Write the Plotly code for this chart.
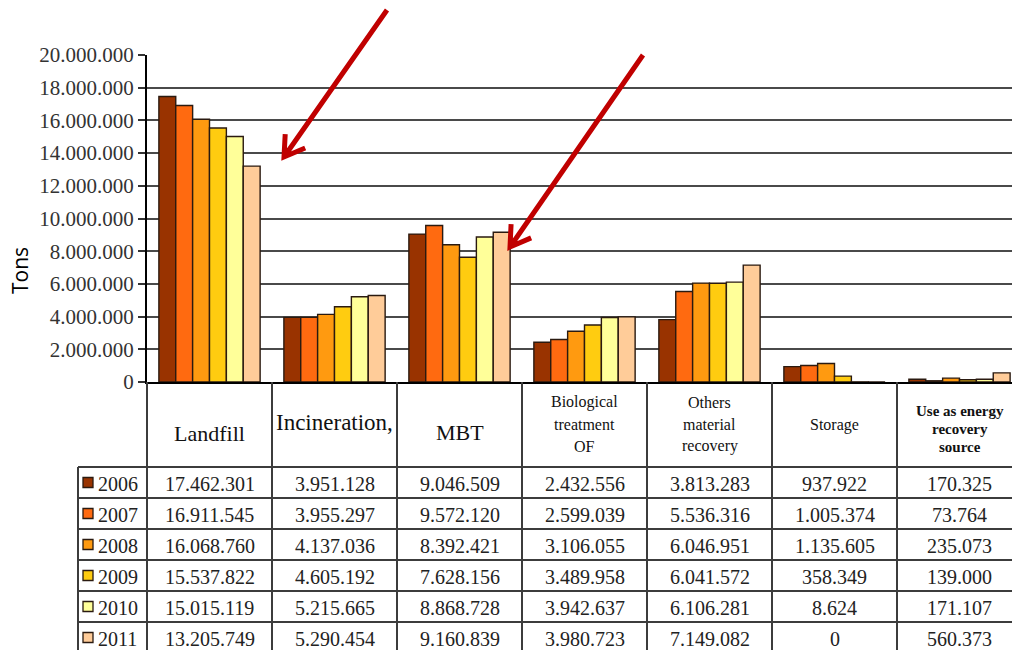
import math
import plotly.graph_objects as go

# ---------------- data ----------------
categories = ["Landfill", "Incineration,", "MBT", "Biological treatment OF",
              "Others material recovery", "Storage", "Use as energy recovery source"]
header_lines = [["Landfill"], ["Incineration,"], ["MBT"],
                ["Biological", "treatment", "OF"],
                ["Others", "material", "recovery"],
                ["Storage"],
                ["Use as energy", "recovery", "source"]]
years = ["2006", "2007", "2008", "2009", "2010", "2011"]
v2006 = [17462301, 3951128, 9046509, 2432556, 3813283, 937922, 170325]
v2007 = [16911545, 3955297, 9572120, 2599039, 5536316, 1005374, 73764]
v2008 = [16068760, 4137036, 8392421, 3106055, 6046951, 1135605, 235073]
v2009 = [15537822, 4605192, 7628156, 3489958, 6041572, 358349, 139000]
v2010 = [15015119, 5215665, 8868728, 3942637, 6106281, 8624, 171107]
v2011 = [13205749, 5290454, 9160839, 3980723, 7149082, 0, 560373]
series = [v2006, v2007, v2008, v2009, v2010, v2011]
ytick_vals = [0, 2000000, 4000000, 6000000, 8000000, 10000000, 12000000,
              14000000, 16000000, 18000000, 20000000]
ytick_text = ["0", "2.000.000", "4.000.000", "6.000.000", "8.000.000", "10.000.000",
              "12.000.000", "14.000.000", "16.000.000", "18.000.000", "20.000.000"]
y_title = "Tons"

# ---------------- style ----------------
colors = ["#993300", "#FF6A10", "#FF9A10", "#FFCC10", "#FFFF99", "#FFCC99"]
SERIF = "Liberation Serif"
W, H = 1012, 650
L, T, B = 147, 55, 382          # plot-area pixel edges
PW, PH = W - L, B - T
COL_W = 125                      # table column width (px)


def px(xp):
    return (xp - L) / PW


def py(yp):
    return (B - yp) / PH


def fmt(v):
    return f"{v:,}".replace(",", ".")


fig = go.Figure()
for yr, vals, c in zip(years, series, colors):
    fig.add_trace(go.Bar(
        name=yr, x=list(range(len(categories))), y=vals,
        marker=dict(color=c, line=dict(color="#2a1a10", width=1.4)),
        hoverinfo="skip"))

shapes = []
annotations = []

# table horizontal lines
row_edges = [467, 498, 529, 560, 591, 622, 653]
for ye in row_edges:
    shapes.append(dict(type="line", xref="paper", yref="paper",
                       x0=px(78), x1=1.0, y0=py(ye), y1=py(ye),
                       line=dict(color="#3c3c3c", width=2)))
# table vertical lines
for k in range(len(categories)):
    xe = L + COL_W * k
    shapes.append(dict(type="line", xref="paper", yref="paper",
                       x0=px(xe), x1=px(xe), y0=py(B), y1=py(H + 5),
                       line=dict(color="#3c3c3c", width=2)))
shapes.append(dict(type="line", xref="paper", yref="paper",
                   x0=px(78), x1=px(78), y0=py(467), y1=py(H + 5),
                   line=dict(color="#3c3c3c", width=2)))

# headers (one annotation per line)
hdr_sizes = [22, 23, 22, 16, 16, 16, 15]
hdr_bold = [False, False, False, False, False, False, True]
hdr_y0 = [433, 422, 432, 402, 402, 425, 411]
hdr_step = [0, 0, 0, 22, 22, 0, 18]
for i, lines in enumerate(header_lines):
    for j, lab in enumerate(lines):
        txt = f"<b>{lab}</b>" if hdr_bold[i] else lab
        annotations.append(dict(xref="x", yref="paper", x=i,
                                y=py(hdr_y0[i] + j * hdr_step[i]),
                                text=txt, showarrow=False, xanchor="center",
                                yanchor="middle",
                                font=dict(family=SERIF, size=hdr_sizes[i], color="#111")))

# rows
for r, (yr, vals, c) in enumerate(zip(years, series, colors)):
    yc = (row_edges[r] + row_edges[r + 1]) / 2
    shapes.append(dict(type="rect", xref="paper", yref="paper",
                       x0=px(83), x1=px(93), y0=py(yc - 5), y1=py(yc + 5),
                       fillcolor=c, line=dict(color="#2a1a10", width=1.3)))
    annotations.append(dict(xref="paper", yref="paper", x=px(96), y=py(yc + 1),
                            text=yr, showarrow=False, xanchor="left", yanchor="middle",
                            font=dict(family=SERIF, size=20, color="#222")))
    for i, v in enumerate(vals):
        annotations.append(dict(xref="x", yref="paper", x=i, y=py(yc + 1),
                                text=fmt(v), showarrow=False, xanchor="center",
                                yanchor="middle",
                                font=dict(family=SERIF, size=20, color="#222")))

# y title
annotations.append(dict(xref="paper", yref="paper", x=px(20), y=py(270), text=y_title,
                        textangle=-90, showarrow=False, xanchor="center", yanchor="middle",
                        font=dict(family="Open Sans", size=21, color="#000")))


# red arrows (annotation decoration)
def arrow(x0, y0, x1, y1, head=23, ang=32):
    dx, dy = x0 - x1, y0 - y1
    n = math.hypot(dx, dy)
    ux, uy = dx / n, dy / n
    pts = []
    for s in (1, -1):
        a = math.radians(ang * s)
        hx = x1 + head * (ux * math.cos(a) - uy * math.sin(a))
        hy = y1 + head * (ux * math.sin(a) + uy * math.cos(a))
        pts.append((hx, hy))
    path = (f"M {px(x0)} {py(y0)} L {px(x1)} {py(y1)} "
            f"M {px(pts[0][0])} {py(pts[0][1])} L {px(x1)} {py(y1)} "
            f"L {px(pts[1][0])} {py(pts[1][1])}")
    return dict(type="path", xref="paper", yref="paper", path=path,
                line=dict(color="#C00000", width=5))


shapes.append(arrow(387, 10, 284, 157))
shapes.append(arrow(643, 55, 510, 247))

fig.update_layout(
    width=W, height=H,
    margin=dict(l=L, r=0, t=T, b=H - B, pad=0),
    paper_bgcolor="white", plot_bgcolor="white",
    barmode="group", bargap=0.19, bargroupgap=0,
    showlegend=False,
    shapes=shapes, annotations=annotations,
    xaxis=dict(range=[-0.5, -0.5 + PW / COL_W], showticklabels=False, ticks="",
               showgrid=False, zeroline=False, showline=True, linecolor="#000",
               linewidth=2, fixedrange=True),
    yaxis=dict(range=[0, 20000000], tickvals=ytick_vals, ticktext=ytick_text,
               ticks="outside", ticklen=7, tickwidth=1.5, tickcolor="#333",
               showgrid=True, gridcolor="#4a4a4a", gridwidth=1.6,
               zeroline=False, showline=True, linecolor="#000", linewidth=2,
               tickfont=dict(family=SERIF, size=21, color="#333"), fixedrange=True),
)

fig.write_html("out.html", config=dict(displayModeBar=False),
               post_script="document.body.style.margin='0';"
                           "document.body.style.overflow='hidden';")
